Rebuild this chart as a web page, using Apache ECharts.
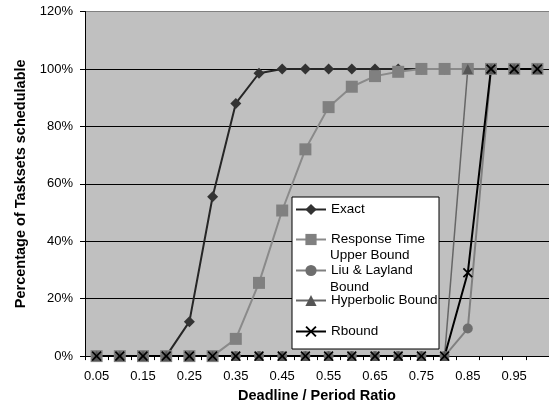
<!DOCTYPE html>
<html>
<head>
<meta charset="utf-8">
<script src="https://cdn.jsdelivr.net/npm/echarts@6/dist/echarts.min.js"></script>
<style>
html,body{margin:0;padding:0;background:#fff;}
#chart{width:549px;height:408px;}
</style>
</head>
<body>
<div id="chart"></div>
<script>
var categories = ['0.05','0.10','0.15','0.20','0.25','0.30','0.35','0.40','0.45','0.50','0.55','0.60','0.65','0.70','0.75','0.80','0.85','0.90','0.95','1.00'];
var exact        = [0,0,0,0,12,55.5,88,98.5,100,100,100,100,100,100,100,100,100,100,100,100];
var responseTime = [0,0,0,0,0,0,6,25.5,50.7,72,86.7,93.8,97.5,99,100,100,100,100,100,100];
var liuLayland   = [0,0,0,0,0,0,0,0,0,0,0,0,0,0,0,0,9.6,100,100,100];
var hyperbolic   = [0,0,0,0,0,0,0,0,0,0,0,0,0,0,0,0,100,100,100,100];
var rbound       = [0,0,0,0,0,0,0,0,0,0,0,0,0,0,0,0,29,100,100,100];
var yTicks = {min: 0, max: 120, interval: 20};

var FONT = 'Liberation Sans, Arial, sans-serif';
var X_PATH = 'path://M0,1.2L1.2,0L5,3.8L8.8,0L10,1.2L6.2,5L10,8.8L8.8,10L5,6.2L1.2,10L0,8.8L3.8,5Z';

var names = ['Exact', 'Response Time', 'Liu & Layland', 'Hyperbolic Bound', 'Rbound'];
// legend labels wrap onto a second line in the original
var legendSecondLine = {'Response Time': 'Upper Bound', 'Liu & Layland': 'Bound'};
var legendTops = [201, 231, 262, 292, 323];

function mkLegend(i) {
  return {
    data: [names[i]],
    left: 295,
    top: legendTops[i],
    padding: 0,
    itemWidth: 30,
    itemHeight: 14,
    selectedMode: false,
    z: 20,
    textStyle: {fontFamily: FONT, fontSize: 13.5, color: '#000', lineHeight: 17}
  };
}

var chart = echarts.init(document.getElementById('chart'), null, {renderer: 'canvas'});
chart.setOption({
  animation: false,
  backgroundColor: '#fff',
  textStyle: {fontFamily: FONT},
  grid: {left: 85, right: 0, top: 11.5, bottom: 46.5, show: true, backgroundColor: '#C0C0C0', borderWidth: 0},
  legend: [mkLegend(0), mkLegend(1), mkLegend(2), mkLegend(3), mkLegend(4)],
  graphic: [
    {type: 'rect', z: 15, shape: {x: 292, y: 197, width: 147, height: 152},
      style: {fill: '#fff', stroke: '#000', lineWidth: 1}},
    {type: 'text', z: 21, x: 330, y: 255,
      style: {text: legendSecondLine['Response Time'], fill: '#000', font: '13.5px ' + FONT, verticalAlign: 'middle'}},
    {type: 'text', z: 21, x: 330, y: 287,
      style: {text: legendSecondLine['Liu & Layland'], fill: '#000', font: '13.5px ' + FONT, verticalAlign: 'middle'}}
  ],
  xAxis: {
    type: 'category', data: categories, boundaryGap: true,
    name: 'Deadline / Period Ratio', nameLocation: 'middle', nameGap: 31,
    nameTextStyle: {fontFamily: FONT, fontSize: 14.5, fontWeight: 'bold', color: '#000'},
    axisLine: {lineStyle: {color: '#000', width: 1}},
    axisTick: {show: true, interval: 0, length: 4, lineStyle: {color: '#000'}},
    axisLabel: {interval: 1, margin: 14, fontFamily: FONT, fontSize: 13, color: '#000'},
    splitLine: {show: false}
  },
  yAxis: {
    type: 'value', min: yTicks.min, max: yTicks.max, interval: yTicks.interval,
    name: 'Percentage of Tasksets schedulable', nameLocation: 'middle', nameGap: 53, nameRotate: 90,
    nameTextStyle: {fontFamily: FONT, fontSize: 14.5, fontWeight: 'bold', color: '#000'},
    axisLine: {show: true, lineStyle: {color: '#000', width: 1}},
    axisTick: {show: true, length: 5, lineStyle: {color: '#000'}},
    axisLabel: {formatter: '{value}%', margin: 12, fontFamily: FONT, fontSize: 13, color: '#000'},
    splitLine: {show: true, lineStyle: {color: ['#000','#000','#000','#000','#000','#000','#808080'], width: 1}}
  },
  series: [
    {name: 'Exact', type: 'line', data: exact, symbol: 'diamond', symbolSize: 11,
      lineStyle: {color: '#262626', width: 2}, itemStyle: {color: '#333'}},
    {name: 'Response Time', type: 'line', data: responseTime, symbol: 'rect', symbolSize: 12,
      lineStyle: {color: '#8a8a8a', width: 2}, itemStyle: {color: '#808080'}},
    {name: 'Liu & Layland', type: 'line', data: liuLayland, symbol: 'circle', symbolSize: 10,
      lineStyle: {color: '#808080', width: 2}, itemStyle: {color: '#6e6e6e'}},
    {name: 'Hyperbolic Bound', type: 'line', data: hyperbolic, symbol: 'triangle', symbolSize: 10,
      lineStyle: {color: '#666', width: 1.5}, itemStyle: {color: '#555'}},
    {name: 'Rbound', type: 'line', data: rbound, symbol: X_PATH, symbolSize: 10,
      lineStyle: {color: '#000', width: 2}, itemStyle: {color: '#000'}}
  ]
});
</script>
</body>
</html>
